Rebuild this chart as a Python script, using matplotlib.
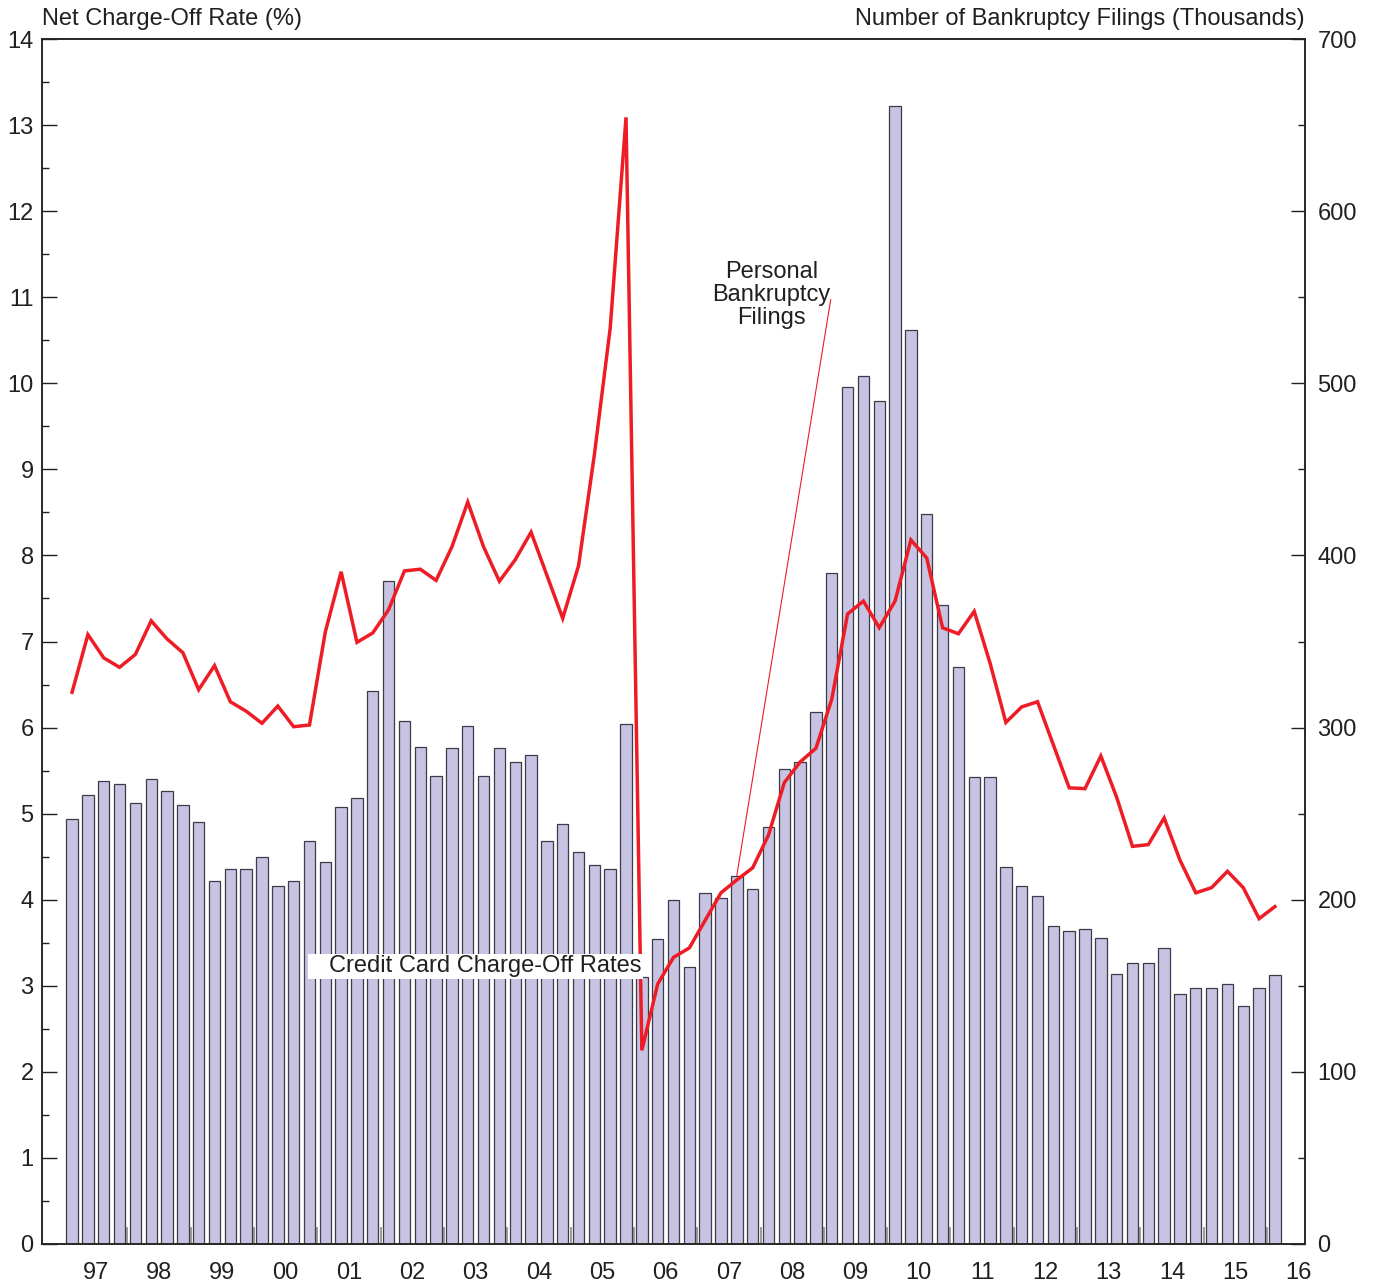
import matplotlib
matplotlib.use("Agg")
import matplotlib.pyplot as plt
from matplotlib.patches import Rectangle
from matplotlib.ticker import MultipleLocator, FixedLocator, NullFormatter
import pandas as pd

plt.rcParams['font.family'] = ['Liberation Sans', 'DejaVu Sans']

# Quarterly observations, 1997Q1 - 2016Q1
quarters = pd.period_range('1997Q1', '2016Q1', freq='Q')

# Personal bankruptcy filings (thousands)
filings = [247, 261, 269, 267, 256, 270, 263, 255, 245, 211,
           218, 218, 225, 208, 211, 234, 222, 254, 259, 321,
           385, 304, 289, 272, 288, 301, 272, 288, 280, 284,
           234, 244, 228, 220, 218, 302, 155, 177, 200, 161,
           204, 201, 214, 206, 242, 276, 280, 309, 390, 498,
           504, 490, 661, 531, 424, 371, 335, 271, 271, 219,
           208, 202, 185, 182, 183, 178, 157, 163, 163, 172,
           145, 149, 149, 151, 138, 149, 156]

# Credit card net charge-off rate (%)
charge_off = [6.41, 7.08, 6.81, 6.70, 6.85, 7.24, 7.03, 6.87, 6.44, 6.72,
              6.30, 6.19, 6.05, 6.25, 6.01, 6.03, 7.11, 7.81, 6.99, 7.10,
              7.37, 7.82, 7.84, 7.71, 8.10, 8.62, 8.10, 7.70, 7.95, 8.27,
              7.77, 7.27, 7.88, 9.17, 10.64, 13.09, 2.25, 3.02, 3.33, 3.44,
              3.76, 4.08, 4.23, 4.37, 4.75, 5.36, 5.60, 5.76, 6.33, 7.32,
              7.47, 7.16, 7.47, 8.18, 7.97, 7.16, 7.09, 7.35, 6.75, 6.06,
              6.24, 6.30, 5.80, 5.30, 5.29, 5.67, 5.19, 4.62, 4.64, 4.95,
              4.46, 4.08, 4.14, 4.33, 4.14, 3.78, 3.92]

years = list(range(1997, 2017))
year_labels = [f"{y % 100:02d}" for y in years]

# quarter midpoints in fractional years
x = [p.year + (p.quarter - 1) * 0.25 + 0.125 for p in quarters]

TXT = '#231f20'
BAR_FILL = '#c6c4e2'
BAR_EDGE = '#3c3c48'
RED = '#ee1c25'
FS = 17

fig = plt.figure(figsize=(13.76, 12.88), dpi=100)
ax = fig.add_axes([42 / 1376, 1 - 1244 / 1288, (1305 - 42) / 1376, (1244 - 39) / 1288])
ax2 = ax.twinx()

# bars on the primary axes (right-hand scale), line on the twin (left-hand scale)
ax.bar(x, filings, width=0.18, color=BAR_FILL, edgecolor=BAR_EDGE, linewidth=0.9, zorder=2)
ax2.plot(x, charge_off, color=RED, linewidth=2.5, solid_joinstyle='miter', zorder=3)

ax.set_xlim(1996.65, 2016.60)
ax.set_ylim(0, 700)
ax2.set_ylim(0, 14)

# axis sides
ax.yaxis.tick_right()
ax2.yaxis.tick_left()

ax.yaxis.set_major_locator(MultipleLocator(100))
ax.yaxis.set_minor_locator(MultipleLocator(50))
ax2.yaxis.set_major_locator(MultipleLocator(1))
ax2.yaxis.set_minor_locator(MultipleLocator(0.5))

ax.tick_params(axis='y', which='major', direction='in', length=10, width=1.0,
               colors=TXT, labelsize=FS, pad=9, right=True, left=False)
ax.tick_params(axis='y', which='minor', direction='in', length=5, width=1.0,
               color=TXT, right=True, left=False)
ax2.tick_params(axis='y', which='major', direction='in', length=11, width=1.0,
                colors=TXT, labelsize=FS, pad=6, left=True, right=False)
ax2.tick_params(axis='y', which='minor', direction='in', length=5, width=1.0,
                color=TXT, left=True, right=False)

# year boundaries as inward gray ticks, year labels centred on each year
ax.xaxis.set_major_locator(FixedLocator([y for y in years[1:]]))
ax.xaxis.set_major_formatter(NullFormatter())
ax.xaxis.set_minor_locator(FixedLocator([y + 0.5 for y in years]))
ax.set_xticklabels(year_labels, minor=True)
ax.tick_params(axis='x', which='major', direction='in', length=12, width=1.2,
               color='#8a8a8a', top=False)
ax.tick_params(axis='x', which='minor', length=0, labelsize=FS, pad=13,
               labelcolor=TXT, top=False)

for a in (ax, ax2):
    for s in a.spines.values():
        s.set_color('#222222')
        s.set_linewidth(1.1)

# series labels
q = 0.25
ax2.add_patch(Rectangle((1997.125 + 14.9 * q, 3.08), 21.15 * q, 0.29,
                        facecolor='white', edgecolor='none', zorder=4))
ax2.text(1997.125 + 35.95 * q, 3.225, 'Credit Card Charge-Off Rates', ha='right',
         va='center', fontsize=FS, color=TXT, zorder=5)

ax2.annotate('Personal\nBankruptcy\nFilings',
             xy=(x[42], filings[42]), xycoords=ax.transData,
             xytext=(1997.125 + 44.2 * q, 11.03), textcoords='data',
             ha='center', va='center', fontsize=FS, color=TXT, linespacing=1.06,
             arrowprops=dict(arrowstyle='-', color=RED, linewidth=0.8,
                             shrinkA=0, shrinkB=0, patchA=None,
                             relpos=(1.0, 0.43)),
             zorder=5)

fig.text(42 / 1376, 1 - 19 / 1288, 'Net Charge-Off Rate (%)', ha='left',
         va='center', fontsize=FS, color=TXT)
fig.text(1305 / 1376, 1 - 19 / 1288, 'Number of Bankruptcy Filings (Thousands)',
         ha='right', va='center', fontsize=FS, color=TXT)

fig.savefig('out.png', dpi=100, facecolor='white')
